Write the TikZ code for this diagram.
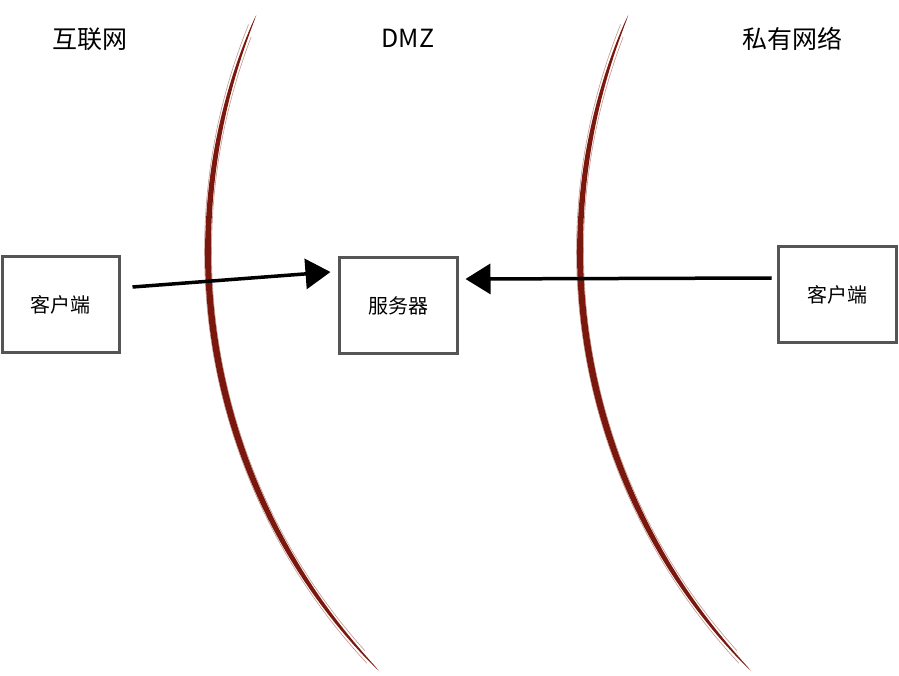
\documentclass[tikz,border=0pt]{standalone}
\usepackage{fontspec}
\setmainfont{Noto Sans CJK SC}
\usetikzlibrary{arrows.meta,calc}
\definecolor{curvered}{RGB}{122,24,14}
\definecolor{boxgray}{RGB}{85,85,85}
\tikzset{
  heading/.style={font=\fontsize{25}{30}\selectfont, inner sep=0pt},
  hostbox/.style={draw=boxgray, line width=3pt, fill=white, minimum width=117pt, minimum height=95pt, inner sep=0pt, font=\fontsize{20}{24}\selectfont},
  flow/.style={line width=3.5pt, black, -{Triangle[length=25pt,width=30pt]}},
}
\newcommand{\zonecurve}[1]{%
  \fill[curvered] plot[domain=135.7:203.1,samples=120,variable=\t]
    ({#1+(601+3.2*pow(sin(180*(\t-135.7)/67.4),0.6))*cos(\t)},{251+(601+3.2*pow(sin(180*(\t-135.7)/67.4),0.6))*sin(\t)})
    -- plot[domain=203.1:135.7,samples=120,variable=\t]
    ({#1+(601-3.2*pow(sin(180*(\t-135.7)/67.4),0.6))*cos(\t)},{251+(601-3.2*pow(sin(180*(\t-135.7)/67.4),0.6))*sin(\t)})
    -- cycle;
  \draw[curvered, line width=0.6pt, opacity=0.45] plot[domain=137:202,samples=80,variable=\t]
    ({#1+604.5*cos(\t)},{251+604.5*sin(\t)});
  \draw[curvered, line width=0.6pt, opacity=0.45] plot[domain=138:201,samples=80,variable=\t]
    ({#1+597.5*cos(\t)},{251+597.5*sin(\t)});
}
\begin{document}
\begin{tikzpicture}[x=1pt,y=-1pt]
\useasboundingbox[fill=white] (0,0) rectangle (899,676);

\zonecurve{809}
\zonecurve{1181}

\node[heading] (hinet) at (90,39) {互联网};
\node[heading] (hdmz) at (408,38) {DMZ};
\node[heading] (hpriv) at (792,39) {私有网络};

\node[hostbox] (c1) at (60.5,304.5) {客户端};
\node[hostbox, minimum width=118pt] (srv) at (398,305.5) {服务器};
\node[hostbox, minimum width=118pt] (c2) at (837,294.5) {客户端};

\draw[flow] ($(c1.east)+(12,-17.5)$) -- ($(srv.west)+(-7,-33.5)$);
\draw[flow] ($(c2.west)+(-5,-16.5)$) -- ($(srv.east)+(7,-26.5)$);
\end{tikzpicture}
\end{document}
